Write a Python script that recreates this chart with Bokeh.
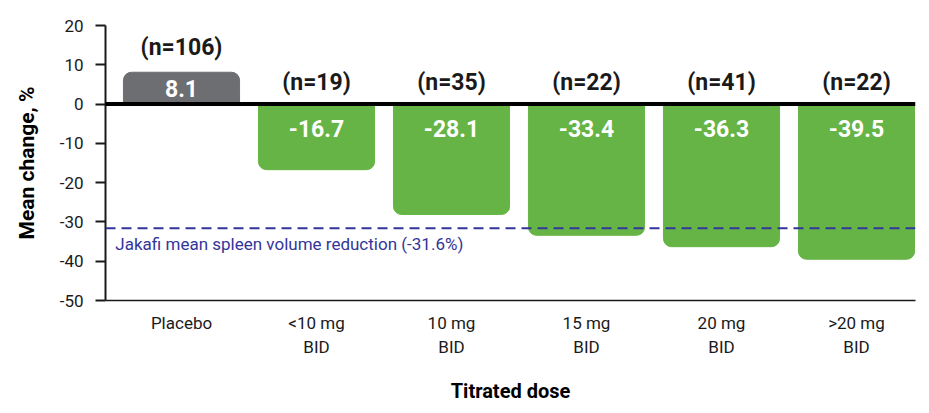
from bokeh.plotting import figure
from bokeh.models import Range1d, Span, Label, ColumnDataSource, FixedTicker, CDSView, IndexFilter
from bokeh.core.properties import value
from bokeh.embed import file_html
from bokeh.resources import INLINE

categories = ["Placebo", "<10 mg\nBID", "10 mg\nBID", "15 mg\nBID", "20 mg\nBID", ">20 mg\nBID"]
values = [8.1, -16.7, -28.1, -33.4, -36.3, -39.5]
n_counts = [106, 19, 35, 22, 41, 22]
reference_value = -31.6
reference_text = "Jakafi mean spleen volume reduction (-31.6%)"
y_ticks = [-50, -40, -30, -20, -10, 0, 10, 20]

FONT = "Roboto"
GREEN = "#66b446"
GREY = "#6d6e71"
NAVY = "#33359a"

xs = list(range(len(categories)))
colors = [GREY if v > 0 else GREEN for v in values]
tops = [max(v, 0) for v in values]
bottoms = [min(v, 0) for v in values]
val_text_y = [v / 2 if v > 0 else -6.2 for v in values]
n_text_y = [t + (6.3 if t > 0 else 5.5) for t in tops]

src = ColumnDataSource(dict(
    x=xs, top=tops, bottom=bottoms, color=colors,
    vt=[f"{v:.1f}" for v in values], vy=val_text_y,
    nt=[f"(n={n})" for n in n_counts], ny=n_text_y,
))

p = figure(width=921, height=405, x_range=Range1d(-0.563, len(categories) - 0.563),
           y_range=Range1d(-50, 20), output_backend="svg", toolbar_location=None,
           min_border_left=105, min_border_right=6, min_border_top=25, min_border_bottom=105)
p.outline_line_color = None
p.xgrid.grid_line_color = None
p.ygrid.grid_line_color = None

pos = [i for i, v in enumerate(values) if v > 0]
neg = [i for i, v in enumerate(values) if v <= 0]
p.vbar(x="x", top="top", bottom="bottom", width=0.86, color="color", source=src,
       view=CDSView(filter=IndexFilter(pos)), border_radius=(8, 8, 0, 0))
p.vbar(x="x", top="top", bottom="bottom", width=0.86, color="color", source=src,
       view=CDSView(filter=IndexFilter(neg)), border_radius=(0, 0, 8, 8))

p.text(x="x", y="vy", text="vt", source=src, text_color="white", text_font=value(FONT),
       text_font_style="bold", text_font_size="23px", text_align="center", text_baseline="middle")
p.text(x="x", y="ny", text="nt", source=src, text_color="#1a1a1a", text_font=value(FONT),
       text_font_style="bold", text_font_size="23px", text_align="center", text_baseline="middle")

p.add_layout(Span(location=0, dimension="width", line_color="black", line_width=4))
p.add_layout(Span(location=reference_value, dimension="width", line_color=NAVY,
                  line_width=2, line_dash="10 6"))
p.add_layout(Label(x=-0.49, y=reference_value, text=reference_text, text_color=NAVY,
                   text_font=FONT, text_font_size="17px", text_baseline="top", y_offset=-6))

p.yaxis.ticker = FixedTicker(ticks=y_ticks)
p.yaxis.major_label_overrides = {t: str(t) for t in y_ticks}
p.yaxis.minor_tick_line_color = None
p.yaxis.major_tick_in = 0
p.yaxis.major_tick_out = 10
p.yaxis.major_tick_line_width = 2
p.yaxis.axis_line_width = 2
p.yaxis.axis_line_color = "#1a1a1a"
p.yaxis.major_tick_line_color = "#1a1a1a"
p.yaxis.major_label_text_font = FONT
p.yaxis.major_label_text_font_size = "17px"
p.yaxis.major_label_text_color = "#1a1a1a"
p.yaxis.major_label_standoff = 12
p.yaxis.axis_label = "Mean change, %"
p.yaxis.axis_label_text_font = FONT
p.yaxis.axis_label_text_font_style = "bold"
p.yaxis.axis_label_text_font_size = "21px"
p.yaxis.axis_label_text_color = "black"
p.yaxis.axis_label_standoff = 18

p.xaxis.ticker = FixedTicker(ticks=xs)
p.xaxis.major_label_overrides = {i: c for i, c in zip(xs, categories)}
p.xaxis.major_tick_line_color = None
p.xaxis.minor_tick_line_color = None
p.xaxis.axis_line_width = 1.5
p.xaxis.axis_line_color = "#1a1a1a"
p.xaxis.major_label_text_font = FONT
p.xaxis.major_label_text_font_size = "17px"
p.xaxis.major_label_text_color = "#1a1a1a"
p.xaxis.major_label_standoff = 6
p.xaxis.axis_label = "Titrated dose"
p.xaxis.axis_label_text_font = FONT
p.xaxis.axis_label_text_font_style = "bold"
p.xaxis.axis_label_text_font_size = "20px"
p.xaxis.axis_label_text_color = "black"
p.xaxis.axis_label_standoff = 19

open("out.html", "w").write(file_html(p, INLINE))
